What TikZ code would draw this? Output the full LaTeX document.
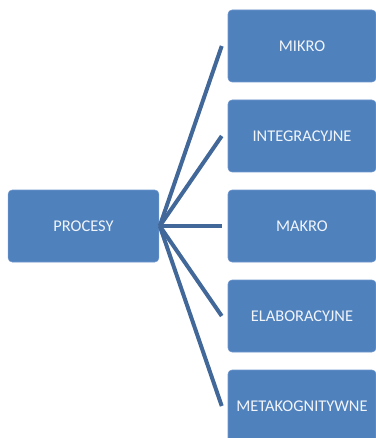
\documentclass[tikz,border=0pt]{standalone}
\usepackage{fontspec}
\setmainfont{Carlito}
\usepackage{xcolor}
\usepackage{tikz}
\definecolor{boxblue}{RGB}{79, 129, 189}
\definecolor{edgeblue}{RGB}{110, 150, 205}
\definecolor{linkblue}{RGB}{65, 104, 152}

\begin{document}
\begin{tikzpicture}[x=0.75pt, y=-0.75pt,
    box/.style={draw=edgeblue, fill=boxblue, rounded corners=3pt, text=white!92!boxblue,
      font=\fontsize{12.3}{14}\selectfont, minimum height=54pt, inner sep=0pt},
    link/.style={linkblue, line width=3pt}]
    \useasboundingbox (0,0) rectangle (375,438);
    \node[box, minimum width=113pt] (procesy) at (83.5,226) {PROCESY};
    \foreach \name/\txt [count=\i from 0] in {mikro/MIKRO, integr/INTEGRACYJNE, makro/MAKRO,
        elab/ELABORACYJNE, meta/METAKOGNITYWNE} {
      \node[box, minimum width=111pt] (\name) at (302,46+90*\i) {\txt};
      \coordinate (\name-in) at ([xshift=-4.5pt]\name.west);
      \draw[link] ([xshift=0.5pt]procesy.east) -- (\name-in);
    }
\end{tikzpicture}
\end{document}
